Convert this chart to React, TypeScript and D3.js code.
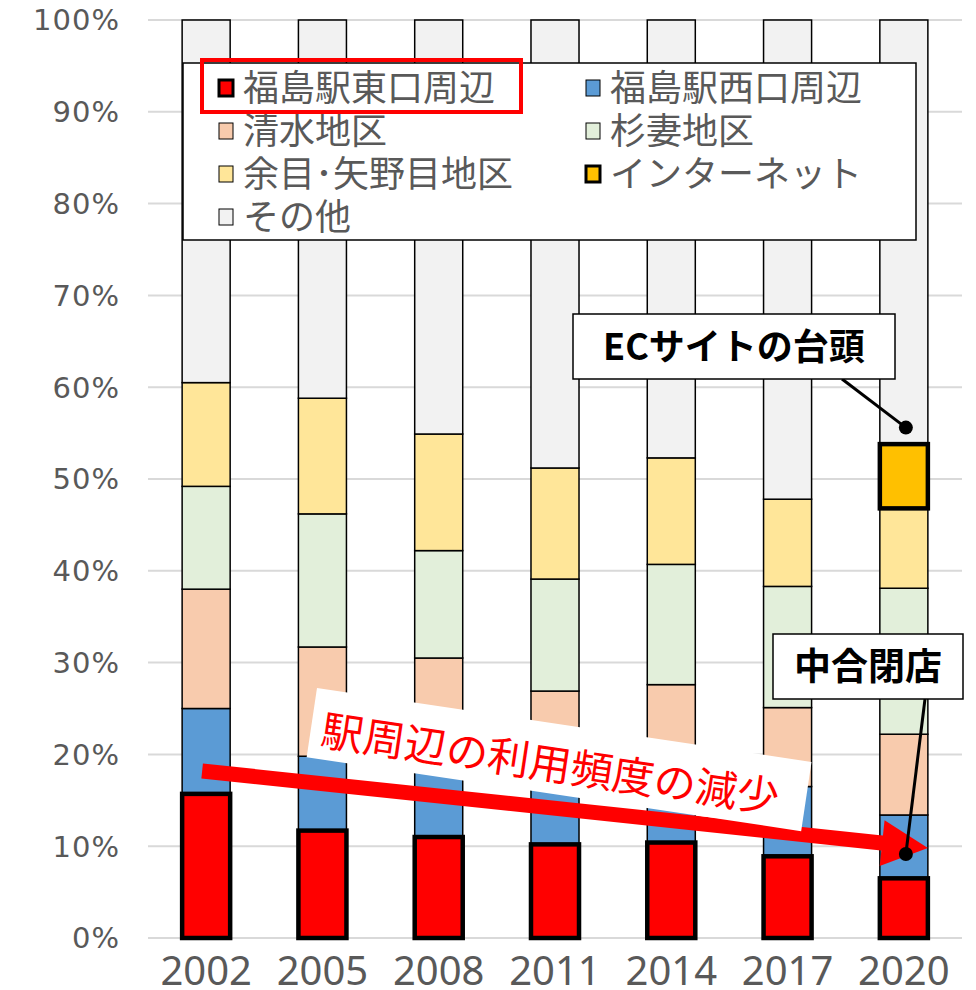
import React from 'react';
import * as d3 from 'd3';

const years = ['2002', '2005', '2008', '2011', '2014', '2017', '2020'];
const eastExit = [15.7, 11.7, 11.0, 10.2, 10.4, 8.9, 6.5];
const westExit = [9.3, 8.1, 7.8, 7.6, 8.0, 7.6, 6.9];
const shimizu = [13.0, 11.9, 11.7, 9.1, 9.2, 8.6, 8.8];
const sugitsuma = [11.2, 14.5, 11.7, 12.2, 13.1, 13.2, 15.9];
const amarume = [11.3, 12.6, 12.7, 12.1, 11.6, 9.5, 8.7];
const internet = [0, 0, 0, 0, 0, 0, 7.0];
const other = [39.5, 41.2, 45.1, 48.8, 47.7, 52.2, 46.2];

const seriesKeys = ['east', 'west', 'shimizu', 'sugitsuma', 'amarume', 'internet', 'other'];
const seriesNames = ['福島駅東口周辺', '福島駅西口周辺', '清水地区', '杉妻地区', '余目･矢野目地区', 'インターネット', 'その他'];
const seriesColors = ['#ff0000', '#5b9bd5', '#f8cbad', '#e2efda', '#ffe699', '#ffc000', '#f2f2f2'];
const thickSeries = ['east', 'internet'];
const yTicks = [0, 10, 20, 30, 40, 50, 60, 70, 80, 90, 100];

const W = 976;
const H = 990;
const M = { left: 148, right: 962, top: 20, bottom: 938 };

export default function App() {
  const rows = years.map((y, i) => ({
    year: y,
    east: eastExit[i],
    west: westExit[i],
    shimizu: shimizu[i],
    sugitsuma: sugitsuma[i],
    amarume: amarume[i],
    internet: internet[i],
    other: other[i],
  }));
  const stacked = d3.stack<any>().keys(seriesKeys)(rows);

  const x = d3.scaleBand<string>().domain(years).range([M.left, M.right]).paddingInner(0.587).paddingOuter(0.2935);
  const y = d3.scaleLinear().domain([0, 100]).range([M.bottom, M.top]);
  const bw = x.bandwidth();
  const cx = (yr: string) => (x(yr) as number) + bw / 2;

  const order = stacked
    .map((s, i) => ({ s, i }))
    .sort((a, b) => (thickSeries.includes(a.s.key) ? 1 : 0) - (thickSeries.includes(b.s.key) ? 1 : 0));

  const gray = '#595959';
  const jp = '"Noto Sans CJK JP", "Noto Sans", sans-serif';

  // Annotation anchors based on scales
  const arrowStart: [number, number] = [cx('2002') - 4, y(18.2)];
  const arrowTip: [number, number] = [cx('2020') + bw / 2, y(9.8)];
  const ang = Math.atan2(arrowTip[1] - arrowStart[1], arrowTip[0] - arrowStart[0]);
  const headLen = 46;
  const headHalf = 23;
  const baseC: [number, number] = [arrowTip[0] - headLen * Math.cos(ang), arrowTip[1] - headLen * Math.sin(ang)];
  const perp: [number, number] = [-Math.sin(ang), Math.cos(ang)];
  const head = [
    arrowTip,
    [baseC[0] + perp[0] * headHalf, baseC[1] + perp[1] * headHalf],
    [baseC[0] - perp[0] * headHalf, baseC[1] - perp[1] * headHalf],
  ];

  const ecDot: [number, number] = [cx('2020') + 2, y(55.6)];
  const closeDot: [number, number] = [cx('2020') + 2, y(9.15)];

  const legendRows = [
    [0, 1],
    [2, 3],
    [4, 5],
    [6],
  ];

  return (
    <svg width={W} height={H} style={{ position: 'absolute', left: 0, top: 0, background: '#fff' }}>
      {/* gridlines */}
      {yTicks.map((t) => (
        <line key={t} x1={M.left} x2={M.right} y1={y(t)} y2={y(t)} stroke="#d9d9d9" strokeWidth={2} />
      ))}
      {/* y labels */}
      {yTicks.map((t) => (
        <text
          key={'l' + t}
          x={120}
          y={y(t)}
          dy="0.36em"
          textAnchor="end"
          fontFamily='"DejaVu Sans", sans-serif'
          fontSize={29}
          fill={gray}
          letterSpacing={1}
        >
          {t}%
        </text>
      ))}
      {/* x labels */}
      {years.map((yr) => (
        <text key={yr} x={cx(yr)} y={985} textAnchor="middle" fontFamily='"Noto Sans", sans-serif' fontSize={40} fill={gray}>
          {yr}
        </text>
      ))}
      {/* bars */}
      {order.map(({ s, i }) => (
        <g key={s.key}>
          {s.map((d: any, j: number) => {
            const h = y(d[0]) - y(d[1]);
            if (h <= 0.01) return null;
            const thick = thickSeries.includes(s.key);
            return (
              <rect
                key={j}
                x={x(d.data.year) as number}
                y={y(d[1])}
                width={bw}
                height={h}
                fill={seriesColors[i]}
                stroke="#000"
                strokeWidth={thick ? 4.5 : 1.5}
              />
            );
          })}
        </g>
      ))}
      {/* legend */}
      <rect x={183} y={63} width={733} height={177} fill="#fff" stroke="#000" strokeWidth={1.5} />
      {legendRows.map((row, r) =>
        row.map((si, c) => {
          const ry = 88 + r * 43;
          const lx = c === 0 ? 219 : 586;
          const thick = thickSeries.includes(seriesKeys[si]);
          return (
            <g key={si}>
              <rect
                x={lx}
                y={ry - 8}
                width={14}
                height={16}
                fill={seriesColors[si]}
                stroke="#000"
                strokeWidth={thick ? 3 : 1}
              />
              <text x={lx + 24} y={ry + 13} fontFamily={jp} fontSize={36} fill={gray}>
                {seriesNames[si]}
              </text>
            </g>
          );
        })
      )}
      <rect x={202} y={60} width={319} height={52} fill="none" stroke="#ff0000" strokeWidth={4} />

      {/* red arrow */}
      <line x1={arrowStart[0]} y1={arrowStart[1]} x2={baseC[0] + 2} y2={baseC[1]} stroke="#ff0000" strokeWidth={15} />
      <polygon points={head.map((p) => p.join(',')).join(' ')} fill="#ff0000" />

      {/* rotated label */}
      <g transform="translate(317,688) rotate(8.5)">
        <rect x={0} y={0} width={500} height={70} fill="#fff" />
        <text x={11} y={56} fontFamily={jp} fontSize={42} fill="#ff0000">
          駅周辺の利用頻度の減少
        </text>
      </g>

      {/* EC annotation */}
      <line x1={842} y1={379} x2={ecDot[0]} y2={ecDot[1]} stroke="#000" strokeWidth={3} />
      <circle cx={ecDot[0]} cy={ecDot[1]} r={7} fill="#000" />
      <rect x={573} y={314} width={322} height={65} fill="#fff" stroke="#000" strokeWidth={1.5} />
      <text x={734} y={347} dy="0.36em" textAnchor="middle" fontFamily={jp} fontWeight="bold" fontSize={36} fill="#000">
        ECサイトの台頭
      </text>

      {/* closing annotation */}
      <line x1={925} y1={699} x2={closeDot[0]} y2={closeDot[1]} stroke="#000" strokeWidth={3} />
      <circle cx={closeDot[0]} cy={closeDot[1]} r={7} fill="#000" />
      <rect x={773} y={634} width={190} height={65} fill="#fff" stroke="#000" strokeWidth={1.5} />
      <text x={868} y={667} dy="0.36em" textAnchor="middle" fontFamily={jp} fontWeight="bold" fontSize={37} fill="#000">
        中合閉店
      </text>
    </svg>
  );
}
